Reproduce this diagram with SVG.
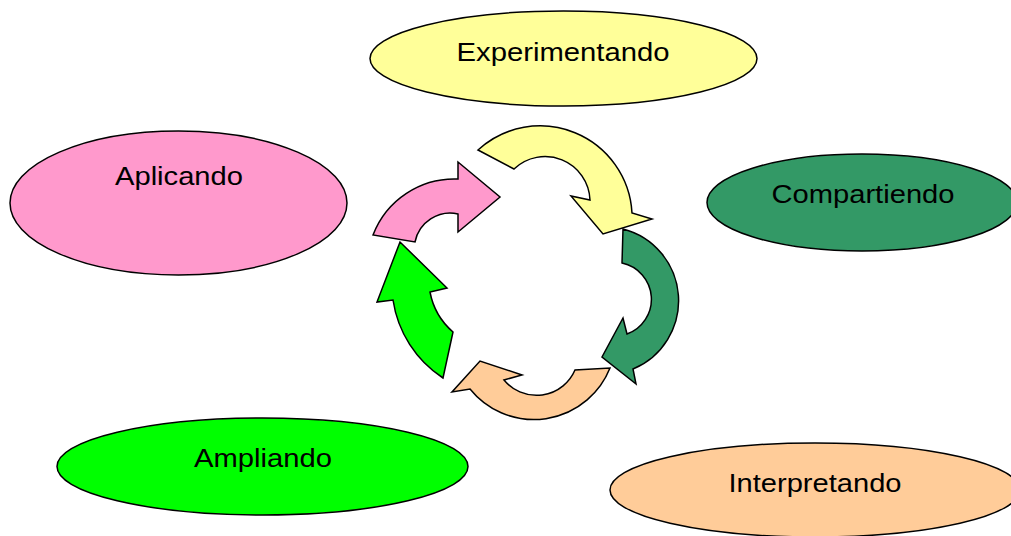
<svg xmlns="http://www.w3.org/2000/svg" width="1011" height="536" viewBox="0 0 1011 536">
<style>
.node ellipse{stroke:#000;stroke-width:1.5}
.node text{font-family:"Liberation Sans",Arial,sans-serif;font-size:26px;fill:#000;text-anchor:middle}
.arr{stroke:#000;stroke-width:1.5;stroke-linejoin:miter}
</style>
<rect width="1011" height="536" fill="#fff"/>
<g id="node-experimentando" class="node">
<ellipse cx="563.5" cy="58.5" rx="193.5" ry="47.5" fill="#FFFF99"/>
<text x="563" y="61" textLength="213" lengthAdjust="spacingAndGlyphs">Experimentando</text>
</g>
<g id="node-aplicando" class="node">
<ellipse cx="178.5" cy="203" rx="168.5" ry="72" fill="#FF99CC"/>
<text x="179" y="185" textLength="128" lengthAdjust="spacingAndGlyphs">Aplicando</text>
</g>
<g id="node-compartiendo" class="node">
<ellipse cx="862" cy="202.5" rx="155" ry="48.5" fill="#339966"/>
<text x="863" y="203" textLength="183" lengthAdjust="spacingAndGlyphs">Compartiendo</text>
</g>
<g id="node-ampliando" class="node">
<ellipse cx="262.5" cy="466.5" rx="205.5" ry="48.5" fill="#00FF00"/>
<text x="263" y="467" textLength="138" lengthAdjust="spacingAndGlyphs">Ampliando</text>
</g>
<g id="node-interpretando" class="node">
<ellipse cx="815" cy="490" rx="205" ry="47" fill="#FFCC99"/>
<text x="815" y="492" textLength="173" lengthAdjust="spacingAndGlyphs">Interpretando</text>
</g>
<g id="connectors">
<path class="arr" fill="#FFFF99" d="M478,150 A92,92 0 0 1 632,213 L652,219 L603,234 L571,196 L590,200 A45,45 0 0 0 514,169 Z"/>
<path class="arr" fill="#339966" d="M623,229 A74,74 0 0 1 633,369 L636,384 L602,357 L623,318 L627,334 A37,37 0 0 0 622,263 Z"/>
<path class="arr" fill="#FFCC99" d="M610,368 A82,82 0 0 1 470,389 L452,392 L480,361 L522,375 L504,380 A42,42 0 0 0 575,370 Z"/>
<path class="arr" fill="#00FF00" d="M443,378 A113,113 0 0 1 393,300 L377,302 L400,242 L447,288 L430,292 A70,70 0 0 0 453,332 Z"/>
<path class="arr" fill="#FF99CC" d="M373,235 A87,87 0 0 1 458,179 L458,162 L500,197 L458,232 L458,214 A36,36 0 0 0 415,242 Z"/>
</g>
</svg>
